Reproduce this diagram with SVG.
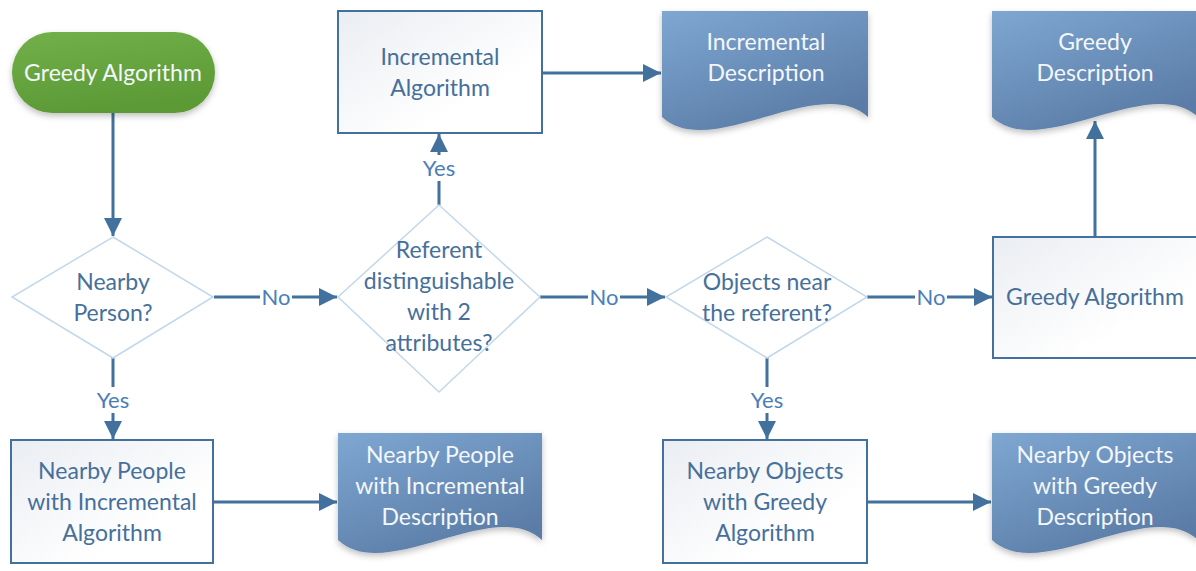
<svg xmlns="http://www.w3.org/2000/svg" width="1196" height="571" viewBox="0 0 1196 571">
  <defs>
    <linearGradient id="gTerm" x1="0" y1="0" x2="0.3" y2="1">
      <stop offset="0" stop-color="#72b04a"/>
      <stop offset="1" stop-color="#5c9a36"/>
    </linearGradient>
    <linearGradient id="gBox" x1="0" y1="0" x2="1" y2="1">
      <stop offset="0" stop-color="#eaedf2"/>
      <stop offset="0.7" stop-color="#ffffff"/>
    </linearGradient>
    <linearGradient id="gDoc" x1="0" y1="0" x2="0.6" y2="1">
      <stop offset="0" stop-color="#7ea7d2"/>
      <stop offset="1" stop-color="#5a7ca6"/>
    </linearGradient>
    <filter id="shadow" x="-10%" y="-10%" width="120%" height="130%">
      <feDropShadow dx="0" dy="3" stdDeviation="3" flood-color="#000" flood-opacity="0.25"/>
    </filter>
    <marker id="arrow" viewBox="0 0 10 10" refX="10" refY="5" markerWidth="6" markerHeight="6" markerUnits="strokeWidth" orient="auto">
      <path d="M0,0 L10,5 L0,10 Z" fill="#41719c"/>
    </marker>
  </defs>
  <style>
    text { font-family: Lato, "Liberation Sans", sans-serif; font-size: 23px; text-anchor: middle; }
    .dark { fill: #46709b; }
    .light { fill: #f4f7fb; }
    .box { fill: url(#gBox); stroke: #41719c; stroke-width: 2; }
    .dec { fill: #ffffff; stroke: #c3d7ec; stroke-width: 1.5; }
    .doc { fill: url(#gDoc); filter: url(#shadow); }
    .term { fill: url(#gTerm); filter: url(#shadow); }
    .edge { stroke: #41719c; stroke-width: 3; fill: none; marker-end: url(#arrow); }
    .lbl { fill: #4a7eb8; font-size: 22px; }
    .lblbg { fill: #ffffff; }
  </style>

  <g id="connectors">
    <path class="edge" d="M113,113 V236"/>
    <path class="edge" d="M214,297 H337"/>
    <path class="edge" d="M540,297 H665"/>
    <path class="edge" d="M867,297 H992"/>
    <path class="edge" d="M439,205 V134"/>
    <path class="edge" d="M542,73 H661"/>
    <path class="edge" d="M1095,237 V121"/>
    <path class="edge" d="M113,358 V439"/>
    <path class="edge" d="M767,358 V439"/>
    <path class="edge" d="M213,502 H337"/>
    <path class="edge" d="M867,502 H991"/>
    <!-- edge labels -->
    <rect class="lblbg" x="260" y="285" width="32" height="24"/>
    <text class="lbl" x="276" y="305">No</text>
    <rect class="lblbg" x="588" y="285" width="32" height="24"/>
    <text class="lbl" x="604" y="305">No</text>
    <rect class="lblbg" x="915" y="285" width="32" height="24"/>
    <text class="lbl" x="931" y="305">No</text>
    <rect class="lblbg" x="418" y="155" width="42" height="26"/>
    <text class="lbl" x="439" y="176">Yes</text>
    <rect class="lblbg" x="92" y="387" width="42" height="26"/>
    <text class="lbl" x="113" y="408">Yes</text>
    <rect class="lblbg" x="746" y="387" width="42" height="26"/>
    <text class="lbl" x="767" y="408">Yes</text>
  </g>

  <g id="start">
    <rect class="term" x="12" y="32" width="203" height="81" rx="40.5" ry="40.5"/>
    <text class="light" x="113" y="81">Greedy Algorithm</text>
  </g>

  <g id="nearbyPerson">
    <polygon class="dec" points="113,237 213,297 113,358 12,297"/>
    <text class="dark" x="113" y="290">Nearby</text>
    <text class="dark" x="113" y="321">Person?</text>
  </g>

  <g id="distinguishable">
    <polygon class="dec" points="439,205 540,297 439,392 338,297"/>
    <text class="dark" x="439" y="258">Referent</text>
    <text class="dark" x="439" y="289">distinguishable</text>
    <text class="dark" x="439" y="320">with 2</text>
    <text class="dark" x="439" y="351">attributes?</text>
  </g>

  <g id="objectsNear">
    <polygon class="dec" points="767,237 867,297 767,358 666,297"/>
    <text class="dark" x="767" y="290">Objects near</text>
    <text class="dark" x="767" y="321">the referent?</text>
  </g>

  <g id="incrementalAlgorithm">
    <rect class="box" x="338" y="11" width="204" height="122"/>
    <text class="dark" x="440" y="65">Incremental</text>
    <text class="dark" x="440" y="96">Algorithm</text>
  </g>

  <g id="incrementalDescription">
    <path class="doc" d="M662,11 H868 V117 C820,72 710,162 662,117 Z"/>
    <text class="light" x="766" y="50">Incremental</text>
    <text class="light" x="766" y="81">Description</text>
  </g>

  <g id="greedyDescription">
    <path class="doc" d="M992,11 H1198 V117 C1150,72 1040,162 992,117 Z"/>
    <text class="light" x="1095" y="50">Greedy</text>
    <text class="light" x="1095" y="81">Description</text>
  </g>

  <g id="greedyAlgorithm">
    <rect class="box" x="993" y="237" width="205" height="121"/>
    <text class="dark" x="1095" y="305">Greedy Algorithm</text>
  </g>

  <g id="nearbyPeopleAlgorithm">
    <rect class="box" x="11" y="440" width="202" height="123"/>
    <text class="dark" x="112" y="479">Nearby People</text>
    <text class="dark" x="112" y="510">with Incremental</text>
    <text class="dark" x="112" y="541">Algorithm</text>
  </g>

  <g id="nearbyPeopleDescription">
    <path class="doc" d="M338,433 H542 V540 C494,495 386,585 338,540 Z"/>
    <text class="light" x="440" y="463">Nearby People</text>
    <text class="light" x="440" y="494">with Incremental</text>
    <text class="light" x="440" y="525">Description</text>
  </g>

  <g id="nearbyObjectsAlgorithm">
    <rect class="box" x="663" y="440" width="204" height="123"/>
    <text class="dark" x="765" y="479">Nearby Objects</text>
    <text class="dark" x="765" y="510">with Greedy</text>
    <text class="dark" x="765" y="541">Algorithm</text>
  </g>

  <g id="nearbyObjectsDescription">
    <path class="doc" d="M992,433 H1198 V540 C1150,495 1040,585 992,540 Z"/>
    <text class="light" x="1095" y="463">Nearby Objects</text>
    <text class="light" x="1095" y="494">with Greedy</text>
    <text class="light" x="1095" y="525">Description</text>
  </g>
</svg>
